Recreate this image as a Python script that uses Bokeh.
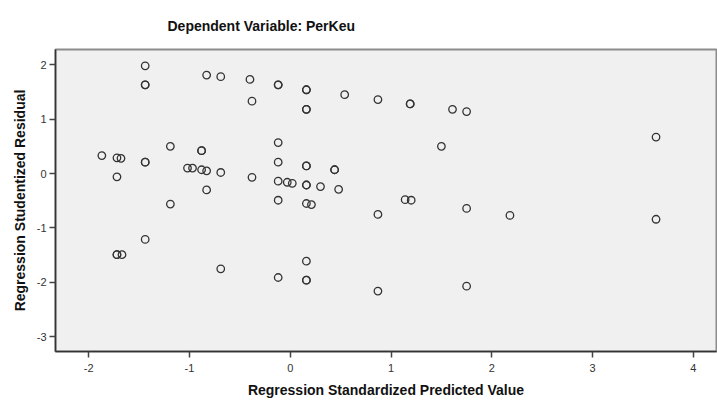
from bokeh.plotting import figure
from bokeh.models import Range1d, FixedTicker, Title, PrintfTickFormatter
from bokeh.embed import file_html
from bokeh.resources import INLINE

# Regression Standardized Predicted Value
pred = [-1.87, -1.72, -1.68, -1.72, -1.44, -1.44, -1.44, -1.44, -1.44,
        -1.19, -1.19, -1.02, -0.97, -0.88, -0.88, -0.88, -0.83, -0.83,
        -0.69, -0.69, -0.83, -0.40, -0.38, -0.38, -0.12, -0.12,
        0.16, 0.16, 0.16, 0.16, 0.54, 0.87, 1.19, 1.19, 1.61, 1.75,
        -0.12, 1.50, -0.12, 0.16, 0.16, 0.44, 0.44,
        -0.12, -0.03, 0.02, 0.16, 0.16, 0.30, 0.48,
        -0.12, 0.16, 0.21, 1.14, 1.20, 0.87, 1.75, 2.18, 3.63, 3.63,
        -1.44, -1.72, -1.72, -1.67, -0.69, 0.16, -0.12, 0.16, 0.16, 0.87, 1.75]
# Regression Studentized Residual
resid = [0.33, 0.29, 0.28, -0.06, 1.98, 1.63, 1.63, 0.21, 0.21,
         0.50, -0.56, 0.10, 0.10, 0.42, 0.42, 0.07, 0.05, 1.81,
         1.78, 0.02, -0.30, 1.73, 1.33, -0.07, 1.63, 1.63,
         1.54, 1.54, 1.18, 1.18, 1.45, 1.36, 1.28, 1.28, 1.18, 1.14,
         0.57, 0.50, 0.21, 0.14, 0.14, 0.07, 0.07,
         -0.14, -0.16, -0.18, -0.21, -0.21, -0.24, -0.29,
         -0.49, -0.55, -0.57, -0.48, -0.49, -0.75, -0.64, -0.77, 0.67, -0.84,
         -1.21, -1.49, -1.49, -1.49, -1.75, -1.61, -1.91, -1.96, -1.96, -2.16, -2.07]

x_ticks = [-2, -1, 0, 1, 2, 3, 4]
y_ticks = [-3, -2, -1, 0, 1, 2]

p = figure(width=717, height=400, output_backend="svg", toolbar_location=None,
           x_range=Range1d(-2.33, 4.23), y_range=Range1d(-3.27, 2.28),
           min_border_left=55, min_border_right=1, min_border_top=49, min_border_bottom=46)

p.add_layout(Title(text="Dependent Variable: PerKeu", align="left", offset=112,
                   text_font="Liberation Sans", text_font_size="14px",
                   text_font_style="bold", text_color="#111111", standoff=31), "above")

p.background_fill_color = "#F0F0F0"
p.border_fill_color = "white"
p.outline_line_color = "#8c8c8c"
p.outline_line_width = 2
p.grid.visible = False

p.scatter(pred, resid, marker="circle", size=7.5, fill_color=None,
          line_color="#333333", line_width=1.3)

for ax, ticks in ((p.xaxis[0], x_ticks), (p.yaxis[0], y_ticks)):
    ax.ticker = FixedTicker(ticks=ticks)
    ax.formatter = PrintfTickFormatter(format="%d")
    ax.minor_tick_line_color = None
    ax.major_tick_in = 0
    ax.major_tick_out = 6
    ax.major_tick_line_color = "#444444"
    ax.major_tick_line_width = 1.5
    ax.axis_line_color = "#333333"
    ax.axis_line_width = 1.5
    ax.major_label_text_font = "Liberation Sans"
    ax.major_label_text_font_size = "11px"
    ax.major_label_text_color = "#333333"
    ax.axis_label_text_font = "Liberation Sans"
    ax.axis_label_text_font_size = "14px"
    ax.axis_label_text_font_style = "bold"
    ax.axis_label_text_color = "#111111"

p.xaxis.major_label_standoff = 6
p.yaxis.major_label_standoff = 3
p.xaxis.axis_label = "Regression Standardized Predicted Value"
p.yaxis.axis_label = "Regression Studentized Residual"
p.xaxis.axis_label_standoff = 7
p.yaxis.axis_label_standoff = 6

open("out.html", "w").write(file_html(p, INLINE))
